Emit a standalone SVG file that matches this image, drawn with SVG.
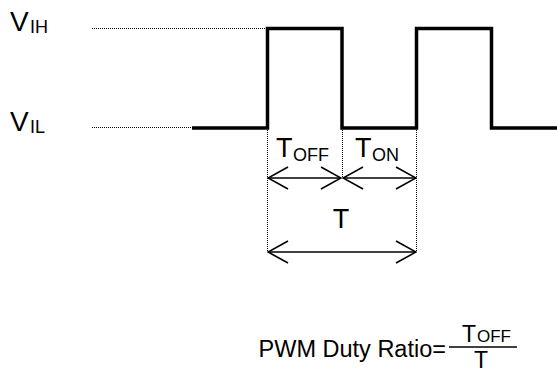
<svg xmlns="http://www.w3.org/2000/svg" width="557" height="374" viewBox="0 0 557 374">
<defs>
<style>
text { font-family: "Liberation Sans", Arial, sans-serif; fill: #000; }
.big { font-size: 27px; }
.sub { font-size: 18px; }
.dot { stroke: #000; stroke-width: 1; stroke-dasharray: 1 1; fill: none; }
.sig { stroke: #000; stroke-width: 3.5; fill: none; stroke-linejoin: miter; }
.arr { stroke: #000; stroke-width: 1.6; fill: none; }
</style>
<marker id="open" viewBox="0 0 22 24" refX="21" refY="12" markerWidth="22" markerHeight="24" markerUnits="userSpaceOnUse" orient="auto-start-reverse">
<path d="M1,1 L21,12 L1,23" fill="none" stroke="#000" stroke-width="1.6"/>
</marker>
</defs>
<g id="labels">
<g id="vih"><text class="big" x="10" y="31" style="font-size:28px">V</text><text class="sub" x="30" y="33">IH</text></g>
<g id="vil"><text class="big" x="10" y="131" style="font-size:28px">V</text><text class="sub" x="30" y="133">IL</text></g>
</g>
<g id="connectors">
<path class="dot" d="M92,28.5 H266"/>
<path class="dot" d="M92,127.5 H192"/>
<path class="dot" d="M267.5,130 V252 M342.5,130 V178 M416.5,130 V252"/>
<path class="sig" d="M192,128 H267.5 V28.5 H342 V128 H416.5 V28.5 H491.5 V128 H557"/>
<path class="arr" d="M268,178 H341" marker-start="url(#open)" marker-end="url(#open)"/>
<path class="arr" d="M343,178 H416" marker-start="url(#open)" marker-end="url(#open)"/>
<path class="arr" d="M268,252 H416" marker-start="url(#open)" marker-end="url(#open)"/>
</g>
<g id="toff"><text class="big" x="276" y="157">T</text><text class="sub" x="293" y="161">OFF</text></g>
<g id="ton"><text class="big" x="355" y="157">T</text><text class="sub" x="372" y="161">ON</text></g>
<g id="t"><text class="big" x="341" y="228" text-anchor="middle">T</text></g>
<g id="formula">
<text class="big" x="446" y="357" text-anchor="end" style="font-size:23.5px">PWM Duty Ratio=</text>
<text class="big" x="462" y="342" style="font-size:23px">T</text><text class="sub" x="477" y="342" style="font-size:17px">OFF</text>
<path d="M449,347 H517" stroke="#000" stroke-width="1.3"/>
<text class="big" x="481" y="368" text-anchor="middle" style="font-size:23px">T</text>
</g>
</svg>
